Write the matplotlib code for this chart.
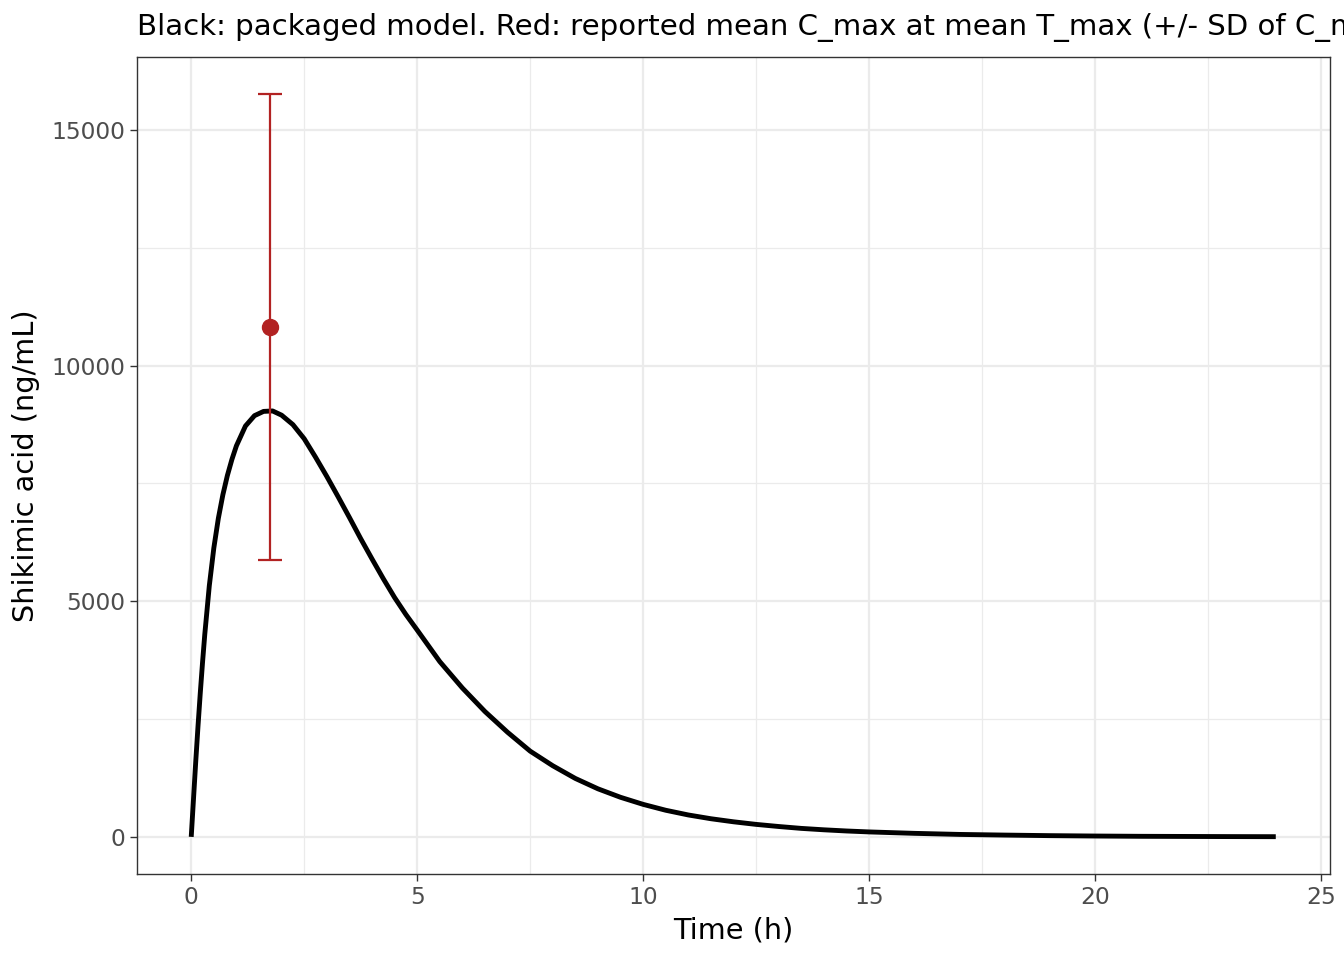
import matplotlib
matplotlib.use("Agg")
import matplotlib.pyplot as plt
from matplotlib.ticker import MultipleLocator

# Model curve (time in h, concentration in ng/mL)
time_h = [0.0, 0.05, 0.1, 0.15, 0.2, 0.25, 0.3, 0.4, 0.5, 0.6, 0.7, 0.8, 0.9,
          1.0, 1.2, 1.4, 1.6, 1.8, 2.0, 2.25, 2.5, 2.75, 3.0, 3.25, 3.5, 3.75,
          4.0, 4.25, 4.5, 4.75, 5.0, 5.5, 6.0, 6.5, 7.0, 7.5, 8.0, 8.5, 9.0,
          9.5, 10.0, 10.5, 11.0, 11.5, 12.0, 12.5, 13.0, 13.5, 14.0, 14.5,
          15.0, 16.0, 17.0, 18.0, 19.0, 20.0, 21.0, 22.0, 23.0, 24.0]
conc = [0, 800, 1600, 2350, 3050, 3700, 4300, 5330, 6130, 6760, 7260, 7670,
        8010, 8300, 8720, 8940, 9030, 9040, 8950, 8750, 8450, 8060, 7650, 7220,
        6780, 6330, 5900, 5480, 5080, 4720, 4390, 3720, 3160, 2660, 2220, 1820,
        1510, 1240, 1020, 840, 690, 565, 465, 385, 320, 265, 220, 180, 150,
        125, 105, 75, 52, 38, 26, 18, 12, 9, 6, 4]

# Reported observation
obs_tmax = [1.75]
obs_cmax = [10825]
obs_sd = [4940]

title = "Black: packaged model. Red: reported mean C_max at mean T_max (+/- SD of C_max)"

fig = plt.figure(figsize=(13.44, 9.6), dpi=100)
ax = fig.add_axes([137/1344, 1-874/960, (1330-137)/1344, (874-57)/960])

ax.plot(time_h, conc, color="black", lw=3.5, solid_capstyle="butt",
        solid_joinstyle="round", zorder=3)
ax.errorbar(obs_tmax, obs_cmax, yerr=obs_sd, fmt="o", color="#B22222",
            ecolor="#B22222", elinewidth=1.6, capsize=8.5, capthick=1.6,
            markersize=11.5, zorder=4)

ax.set_xlim(-1.2, 25.2)
ax.set_ylim(-788, 16552)
ax.xaxis.set_major_locator(MultipleLocator(5))
ax.xaxis.set_minor_locator(MultipleLocator(2.5))
ax.yaxis.set_major_locator(MultipleLocator(5000))
ax.yaxis.set_minor_locator(MultipleLocator(2500))

ax.grid(which="major", color="#EBEBEB", lw=1.6, zorder=0)
ax.grid(which="minor", color="#EBEBEB", lw=0.9, zorder=0)
ax.set_axisbelow(True)

for s in ax.spines.values():
    s.set_color("#333333")
    s.set_linewidth(1.0)

ax.tick_params(which="major", length=5.3, width=1.0, color="#333333",
               labelsize=16.8, labelcolor="#4D4D4D", pad=3)
ax.tick_params(which="minor", length=0)

ax.set_xlabel("Time (h)", fontsize=20.7, color="black", labelpad=6)
ax.set_ylabel("Shikimic acid (ng/mL)", fontsize=20.7, color="black", labelpad=8)

# The reference title runs past the right edge of the figure.
fig.text(137/1344, 1-27/960, title, fontsize=21.1, color="black",
         ha="left", va="center")

fig.savefig("out.png", dpi=100)
